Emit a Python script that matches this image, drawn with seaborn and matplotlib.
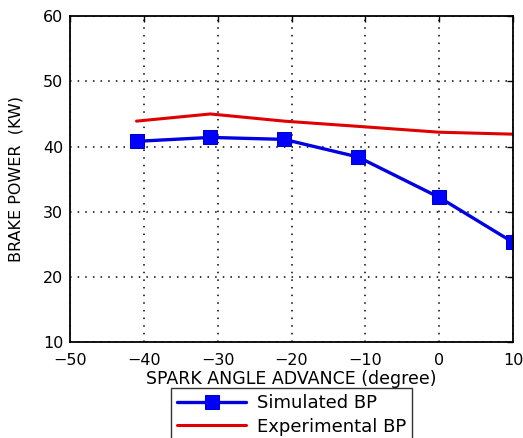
import pandas as pd
import matplotlib
matplotlib.use('Agg')
import matplotlib.pyplot as plt
import seaborn as sns

# data
angle_sim = [-41, -31, -21, -11, 0, 10]
bp_sim = [40.8, 41.4, 41.1, 38.4, 32.2, 25.3]
angle_exp = [-41, -31, -21, -11, 0, 10]
bp_exp = [43.9, 45.0, 43.9, 43.1, 42.2, 41.9]

sns.set_style('white')
plt.rcParams['font.family'] = ['DejaVu Sans']
plt.rcParams['text.color'] = 'black'
plt.rcParams['axes.labelcolor'] = 'black'

df_sim = pd.DataFrame({'angle': angle_sim, 'bp': bp_sim})
df_exp = pd.DataFrame({'angle': angle_exp, 'bp': bp_exp})

fig = plt.figure(figsize=(5.23, 4.38), dpi=100)
ax = fig.add_axes([0.134, 0.219, 0.847, 0.744])

sns.lineplot(data=df_sim, x='angle', y='bp', ax=ax, color='#0000e0', lw=2.4,
             marker='s', markersize=10.5, markerfacecolor='#0000ff',
             markeredgecolor='#0000cc', label='Simulated BP', sort=False)
sns.lineplot(data=df_exp, x='angle', y='bp', ax=ax, color='#e00000', lw=2.2,
             label='Experimental BP', sort=False)

ax.set_xlim(-50, 10)
ax.set_ylim(10, 60)
ax.set_xticks(range(-50, 11, 10))
ax.set_yticks(range(10, 61, 10))
ax.set_xticklabels(['\u221250', '\u221240', '\u221230', '\u221220', '\u221210', '0', '10'])
ax.grid(True, color='black', linestyle=(0, (1, 4)), linewidth=1.1)
ax.tick_params(direction='in', top=True, right=True, length=4, width=1,
               labelsize=11.5, colors='black')
ax.tick_params(axis='x', pad=8)
ax.tick_params(axis='y', pad=5)
for s in ax.spines.values():
    s.set_color('black')
    s.set_linewidth(1.3)

ax.set_xlabel('SPARK ANGLE ADVANCE (degree)', fontsize=12.5, labelpad=1)
ax.set_ylabel('BRAKE POWER  (KW)', fontsize=11.5, labelpad=14)

leg = ax.legend(loc='upper center', bbox_to_anchor=(0.5, -0.113), frameon=True,
                fancybox=False, edgecolor='black', fontsize=13, handlelength=3.8,
                borderpad=0.35, labelspacing=0.3, handletextpad=0.6)
leg.get_frame().set_linewidth(1.0)

fig.savefig('out.png', dpi=100)
